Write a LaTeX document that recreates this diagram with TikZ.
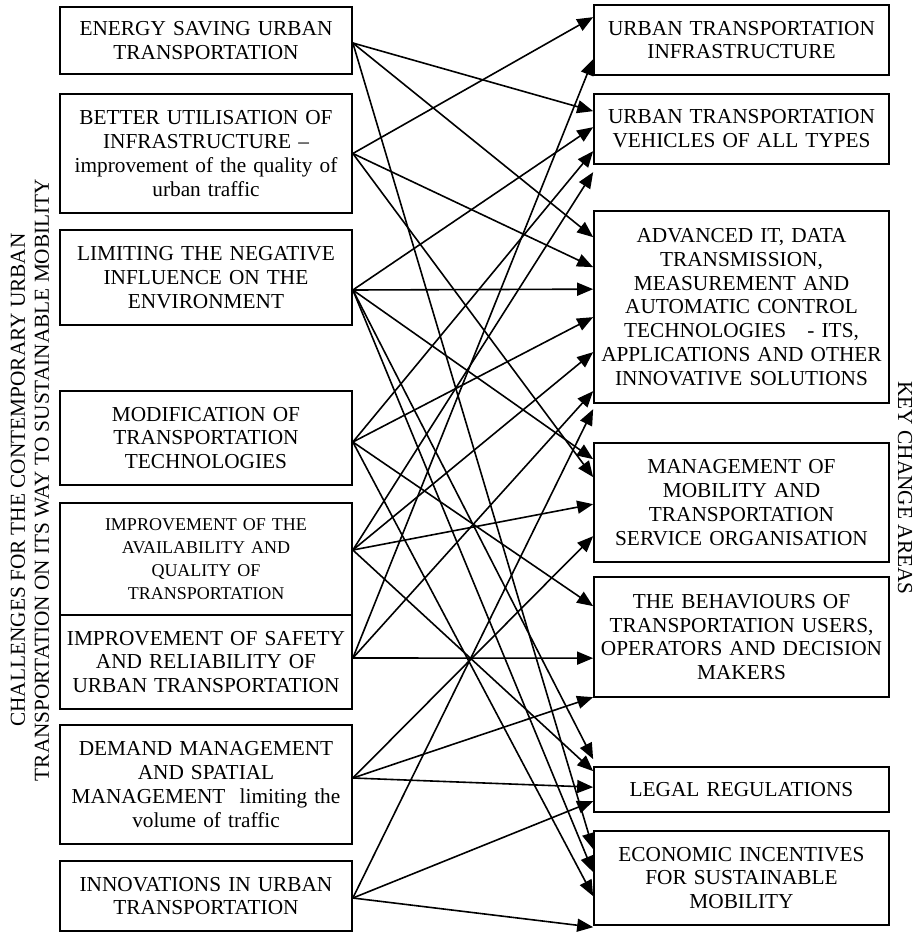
\documentclass[tikz,border=0pt]{standalone}
\usepackage{fontspec}
\setmainfont{Liberation Serif}
\usetikzlibrary{arrows.meta}
\begin{document}
\begin{tikzpicture}[x=1pt,y=-1pt,
  every node/.style={font=\fontsize{21.3}{23.8}\selectfont},
  lbox/.style={draw,line width=1.7pt,inner sep=0pt,text width=292pt,align=center,minimum height=#1},
  rbox/.style={draw,line width=1.7pt,inner sep=0pt,text width=295pt,align=center,minimum height=#1},
  conn/.style={line width=1.6pt,-{Triangle[length=16pt,width=13pt]}},
  sidelabel/.style={align=center,inner sep=0pt}]
\useasboundingbox (0,0) rectangle (919,937);

% challenges (left column)
\node[lbox=67pt]  (L1) at (206,40.5)  {ENERGY SAVING URBAN\\TRANSPORTATION};
\node[lbox=119pt] (L2) at (206,153.5) {BETTER UTILISATION OF\\INFRASTRUCTURE --\\improvement of the quality of\\urban traffic};
\node[lbox=95pt]  (L3) at (206,277.5) {LIMITING THE NEGATIVE\\INFLUENCE ON THE\\ENVIRONMENT};
\node[lbox=94pt]  (L4) at (206,438)   {MODIFICATION OF\\TRANSPORTATION\\TECHNOLOGIES};
\node[lbox=112pt,font=\fontsize{18}{23}\selectfont] (L5) at (206,559) {IMPROVEMENT OF THE\\AVAILABILITY AND\\QUALITY OF\\TRANSPORTATION};
\node[lbox=94pt]  (L6) at (206,662)   {IMPROVEMENT OF SAFETY\\AND RELIABILITY OF\\URBAN TRANSPORTATION};
\node[lbox=119pt] (L7) at (206,784.5) {DEMAND MANAGEMENT\\AND SPATIAL\\MANAGEMENT\ \ limiting the\\volume of traffic};
\node[lbox=70pt]  (L8) at (206,896)   {INNOVATIONS IN URBAN\\TRANSPORTATION};

% key change areas (right column)
\node[rbox=70pt]  (R1) at (741.5,40)   {URBAN TRANSPORTATION\\INFRASTRUCTURE};
\node[rbox=70pt]  (R2) at (741.5,129)  {URBAN TRANSPORTATION\\VEHICLES OF ALL TYPES};
\node[rbox=192pt] (R3) at (741.5,307)  {ADVANCED IT, DATA\\TRANSMISSION,\\MEASUREMENT AND\\AUTOMATIC CONTROL\\TECHNOLOGIES\ \ \ - ITS,\\APPLICATIONS AND OTHER\\INNOVATIVE SOLUTIONS};
\node[rbox=119pt] (R4) at (741.5,502.5) {MANAGEMENT OF\\MOBILITY AND\\TRANSPORTATION\\SERVICE ORGANISATION};
\node[rbox=120pt] (R5) at (741.5,637)  {THE BEHAVIOURS OF\\TRANSPORTATION USERS,\\OPERATORS AND DECISION\\MAKERS};
\node[rbox=45pt]  (R6) at (741.5,789.5) {LEGAL REGULATIONS};
\node[rbox=94pt]  (R7) at (741.5,878)  {ECONOMIC INCENTIVES\\FOR SUSTAINABLE\\MOBILITY};

% axis titles
\node[sidelabel,rotate=90] (TL) at (30,480) {CHALLENGES FOR THE CONTEMPORARY URBAN\\TRANSPORTATION ON ITS WAY TO SUSTAINABLE MOBILITY};
\node[sidelabel,rotate=-90] (TR) at (905,488) {KEY CHANGE AREAS};

% outgoing ports
\coordinate (s1) at ([yshift=-2.5pt]L1.east);
\coordinate (s2) at (L2.east);
\coordinate (s3) at ([yshift=-12.5pt]L3.east);
\coordinate (s4) at ([yshift=-4pt]L4.east);
\coordinate (s5) at ([yshift=9pt]L5.east);
\coordinate (s6) at ([yshift=4pt]L6.east);
\coordinate (s7) at ([yshift=6.5pt]L7.east);
\coordinate (s8) at ([yshift=-2pt]L8.east);

% incoming ports
\foreach \n/\b/\d in {1/R1/13,2/R1/55,3/R2/18,4/R2/34,5/R2/58,6/R2/79,
  7/R3/27,8/R3/57,9/R3/79,10/R3/107,11/R3/142,12/R3/181,13/R3/199,
  14/R4/17,15/R4/35,16/R4/62,17/R4/94,
  18/R5/30,19/R5/82,20/R5/121,
  21/R6/-7,22/R6/5,23/R6/21,24/R6/35,
  25/R7/19,26/R7/42,27/R7/66,28/R7/97}
  \coordinate (t\n) at ([yshift=-\d pt]\b.north west);

% links between challenges and key change areas
\foreach \a/\b in {s1/t3,s1/t7,s1/t25,
  s2/t1,s2/t8,s2/t15,
  s3/t4,s3/t9,s3/t14,s3/t21,s3/t26,
  s4/t5,s4/t10,s4/t18,s4/t27,
  s5/t6,s5/t11,s5/t16,s5/t22,
  s6/t2,s6/t12,s6/t19,
  s7/t17,s7/t20,s7/t23,
  s8/t13,s8/t24,s8/t28}
  \draw[conn] (\a) -- (\b);
\end{tikzpicture}
\end{document}
